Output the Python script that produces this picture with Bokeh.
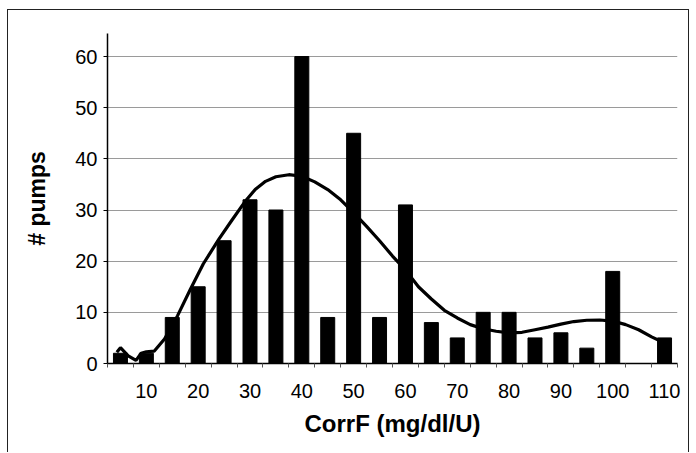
from bokeh.plotting import figure
from bokeh.models import FixedTicker, Range1d
from bokeh.embed import file_html
from bokeh.resources import INLINE

# ---- data ----
corrf = [5, 10, 15, 20, 25, 30, 35, 40, 45, 50, 55, 60, 65, 70, 75, 80, 85, 90, 95, 100, 105, 110]
pumps = [2, 2, 9, 15, 24, 32, 30, 60, 9, 45, 9, 31, 8, 5, 10, 10, 5, 6, 3, 18, 0, 5]

curve_x = [4.3, 5, 6.5, 8, 9, 10, 11.5, 13.5, 16, 18.5, 21, 24, 26.5, 29, 31, 33, 35, 37.5,
           40, 42.5, 45, 47.5, 50, 52.5, 55, 57.5, 60, 62.5, 65, 67.5, 70, 72.5, 75, 77.5,
           80, 82.5, 85, 87.5, 90, 92.5, 95, 97.5, 100, 102.5, 105, 107.5, 110]
curve_y = [2.2, 3.1, 1.5, 0.6, 2.0, 2.3, 2.4, 4.8, 9.3, 14.5, 19.5, 24.3, 28.0, 31.6, 34.0,
           35.6, 36.5, 36.9, 36.6, 35.5, 34.0, 32.0, 29.5, 26.8, 24.0, 21.0, 18.3, 15.0, 12.6,
           10.4, 8.9, 7.6, 6.8, 6.3, 6.0, 6.1, 6.6, 7.1, 7.7, 8.2, 8.45, 8.5, 8.3, 7.6, 6.6,
           5.2, 4.0]

x_tick_values = [10, 20, 30, 40, 50, 60, 70, 80, 90, 100, 110]
x_boundaries = [2.5 + 5 * i for i in range(23)]
y_tick_values = [0, 10, 20, 30, 40, 50, 60]

FONT = "Liberation Sans"

p = figure(width=682, height=443, output_backend="svg", toolbar_location=None,
           x_range=Range1d(2.5, 112.5), y_range=Range1d(0, 64.5),
           min_border_left=99, min_border_top=23, min_border_right=13, min_border_bottom=90)
p.margin = (9, 0, 0, 7)
p.styles = {"border-top": "1.5px solid #222", "border-left": "1.5px solid #222",
            "border-right": "1.5px solid #222"}
p.outline_line_color = None
p.background_fill_color = "white"
p.border_fill_color = "white"

p.vbar(x=corrf, top=pumps, width=2.7, bottom=0, fill_color="black", line_color="black")
p.line(curve_x, curve_y, line_color="black", line_width=3.2)

# grid
p.xgrid.grid_line_color = None
p.ygrid.grid_line_color = "#9a9a9a"
p.ygrid.grid_line_width = 1.2

# x axis
xa = p.xaxis[0]
xa.ticker = FixedTicker(ticks=x_tick_values, minor_ticks=x_boundaries)
xa.major_tick_line_color = None
xa.major_tick_out = 0
xa.major_tick_in = 0
xa.minor_tick_line_color = "#555555"
xa.minor_tick_out = 4
xa.minor_tick_in = 0
xa.axis_line_color = "black"
xa.axis_line_width = 1.5
xa.major_label_text_font = FONT
xa.major_label_text_font_size = "20px"
xa.major_label_text_color = "black"
xa.major_label_standoff = 16
xa.axis_label = "CorrF (mg/dl/U)"
xa.axis_label_text_font = FONT
xa.axis_label_text_font_style = "bold"
xa.axis_label_text_font_size = "24px"
xa.axis_label_text_color = "black"
xa.axis_label_standoff = 9

# y axis
ya = p.yaxis[0]
ya.ticker = FixedTicker(ticks=y_tick_values)
ya.minor_tick_line_color = None
ya.major_tick_out = 4
ya.major_tick_in = 0
ya.major_tick_line_color = "black"
ya.axis_line_color = "black"
ya.axis_line_width = 1.5
ya.major_label_text_font = FONT
ya.major_label_text_font_size = "20px"
ya.major_label_text_color = "black"
ya.major_label_standoff = 6
ya.axis_label = "# pumps"
ya.axis_label_text_font = FONT
ya.axis_label_text_font_style = "bold"
ya.axis_label_text_font_size = "23px"
ya.axis_label_text_color = "black"
ya.axis_label_standoff = 22

open("out.html", "w").write(file_html(p, INLINE))
